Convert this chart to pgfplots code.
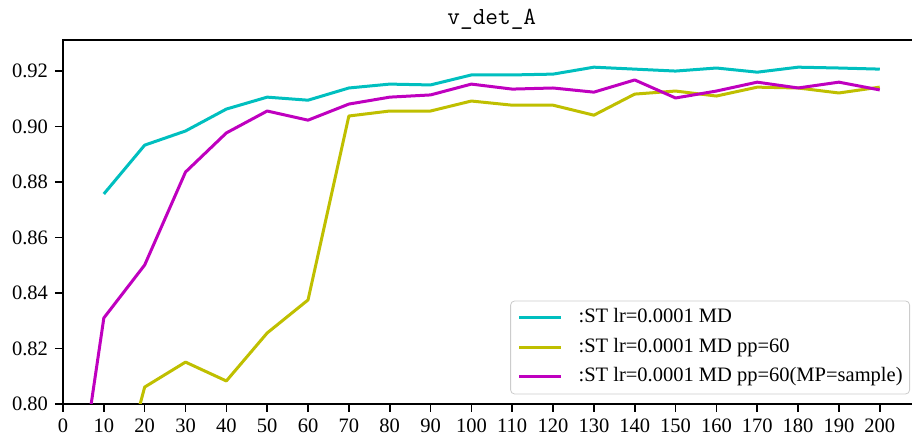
\documentclass[border=0pt]{standalone}
\usepackage{fontspec}
\setmainfont{Liberation Serif}
\usepackage{pgfplots}
\pgfplotsset{compat=1.18}
\definecolor{cC}{rgb}{0,0.75,0.75}
\definecolor{cY}{rgb}{0.75,0.75,0}
\definecolor{cM}{rgb}{0.75,0,0.75}
\begin{document}
\begin{tikzpicture}
\begin{axis}[
  scale only axis, width=428.8pt, height=182pt,
  xmin=0, xmax=210, ymin=0.80, ymax=0.9312,
  xtick={0,10,20,30,40,50,60,70,80,90,100,110,120,130,140,150,160,170,180,190,200},
  ytick={0.80,0.82,0.84,0.86,0.88,0.90,0.92},
  yticklabel style={/pgf/number format/.cd, fixed, fixed zerofill, precision=2},
  /pgf/number format/assume math mode=true,
  tick pos=left,
  tick align=outside, major tick length=4pt,
  tick style={black, line width=0.8pt},
  axis line style={line width=0.8pt},
  font=\fontsize{10.25}{12}\selectfont,
  legend cell align=left,
  legend style={at={(1,0)}, anchor=south east, xshift=-5.5pt, yshift=5pt, outer sep=0pt,
    draw=black!20, rounded corners=2pt, fill=white, fill opacity=0.8, text opacity=1,
    font=\fontsize{10.25}{12}\selectfont, row sep=4.75pt, inner xsep=3.5pt, inner ysep=3.5pt,
    nodes={inner sep=0pt, text height=7.5pt, text depth=2.5pt}},
  legend image code/.code={\draw[#1] (0pt,0pt) -- (21pt,0pt); \path (29pt,0pt);},
  every axis plot/.append style={line width=1.5pt, line join=round},
]
\coordinate (sw) at (rel axis cs:0,0);
\coordinate (tt) at (rel axis cs:0.5,1);
\addplot[cC] coordinates {
(10,0.8757) (20,0.8933) (30,0.8984) (40,0.9063) (50,0.9106) (60,0.9095)
(70,0.9139) (80,0.9153) (90,0.9150) (100,0.9186) (110,0.9186) (120,0.9189)
(130,0.9214) (140,0.9207) (150,0.9200) (160,0.9211) (170,0.9196) (180,0.9214)
(190,0.9211) (200,0.9207)};
\addlegendentry{:ST lr=0.0001 MD}
\addplot[cY] coordinates {
(10,0.751) (20,0.8061) (30,0.8151) (40,0.8083) (50,0.8256) (60,0.8375)
(70,0.9038) (80,0.9056) (90,0.9056) (100,0.9092) (110,0.9077) (120,0.9077)
(130,0.9041) (140,0.9117) (150,0.9128) (160,0.9110) (170,0.9142) (180,0.9139)
(190,0.9121) (200,0.9142)};
\addlegendentry{:ST lr=0.0001 MD pp=60}
\addplot[cM] coordinates {
(0,0.731) (10,0.8310) (20,0.8501) (30,0.8836) (40,0.8977) (50,0.9056) (60,0.9023)
(70,0.9081) (80,0.9106) (90,0.9114) (100,0.9153) (110,0.9135) (120,0.9139)
(130,0.9124) (140,0.9168) (150,0.9103) (160,0.9128) (170,0.9160) (180,0.9139)
(190,0.9160) (200,0.9132)};
\addlegendentry{:ST lr=0.0001 MD pp=60(MP=sample)}
\end{axis}
\node[font=\fontsize{12.3}{14}\selectfont\ttfamily, anchor=base, inner sep=0pt] at ([yshift=7.5pt]tt) {v\_det\_A};
\pgfresetboundingbox
\useasboundingbox ([shift={(-31.5pt,-20pt)}]sw) rectangle ([shift={(424.5pt,202pt)}]sw);
\end{tikzpicture}
\end{document}
